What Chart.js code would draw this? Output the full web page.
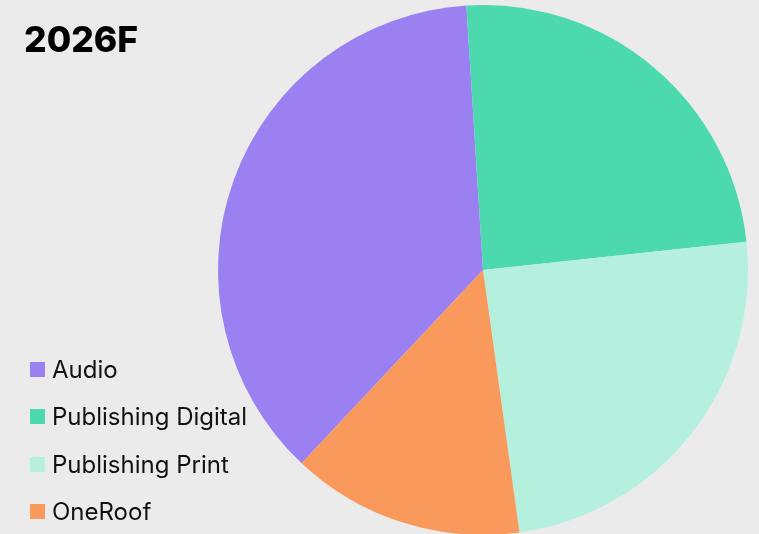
<!DOCTYPE html>
<html>
<head>
<meta charset="utf-8">
<script src="https://cdn.jsdelivr.net/npm/chart.js@4/dist/chart.umd.min.js"></script>
<style>
  html, body { margin: 0; padding: 0; background: #ebebeb; overflow: hidden; }
  #wrap { position: relative; width: 759px; height: 540px; }
  #title {
    position: absolute; left: 24px; top: 18px;
    font: 800 35.5px "Inter", sans-serif; color: #000;
  }
  #legend { position: absolute; left: 30px; top: 346px; }
  .item { display: flex; align-items: center; height: 47.3px; font: 400 24px "Inter", sans-serif; color: #111; }
  .box { width: 15px; height: 15px; margin-right: 7px; }
</style>
</head>
<body>
<div id="wrap">
  <canvas id="c" width="759" height="540"></canvas>
  <div id="title">2026F</div>
  <div id="legend"></div>
</div>
<script>
const labels = ["Audio", "Publishing Digital", "Publishing Print", "OneRoof"];
const values = [37.0, 24.3, 24.5, 14.2];
const colors = ["#9a80f0", "#4dd9ae", "#b5f0de", "#f99a5c"];

const legend = document.getElementById("legend");
labels.forEach((l, i) => {
  const row = document.createElement("div");
  row.className = "item";
  row.innerHTML = '<span class="box" style="background:' + colors[i] + '"></span><span>' + l + '</span>';
  legend.appendChild(row);
});

new Chart(document.getElementById("c"), {
  type: "pie",
  data: {
    labels: labels,
    datasets: [{
      data: values,
      backgroundColor: colors,
      borderWidth: 0
    }]
  },
  options: {
    responsive: false,
    animation: false,
    rotation: 223.2,
    layout: { padding: { left: 218, right: 11, top: 5, bottom: 5 } },
    plugins: {
      legend: { display: false },
      tooltip: { enabled: false }
    }
  }
});
</script>
</body>
</html>
